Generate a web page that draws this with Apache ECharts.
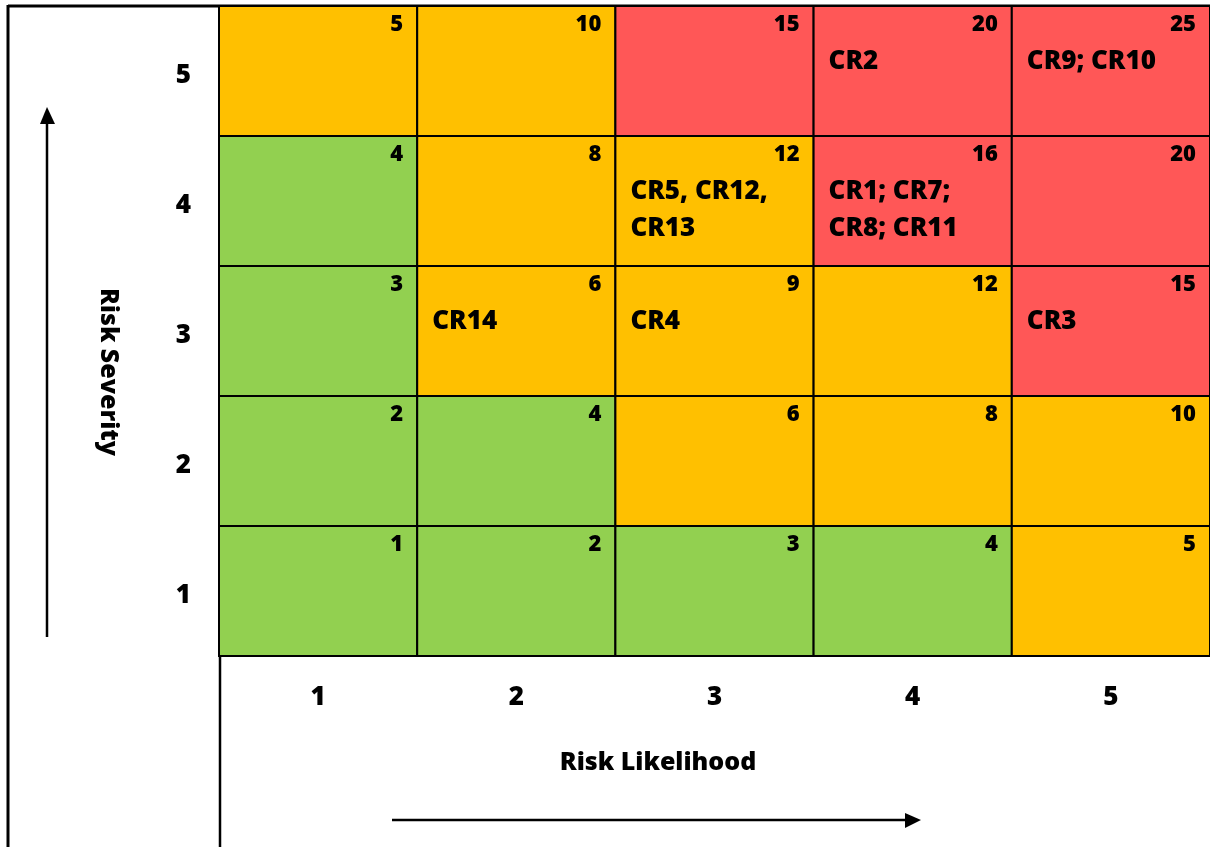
<!DOCTYPE html>
<html><head><meta charset="utf-8">
<script src="https://cdn.jsdelivr.net/npm/echarts@6/dist/echarts.min.js"></script>
<style>html,body{margin:0;padding:0;background:#fff}#c{width:1210px;height:847px}</style>
</head><body><div id="c"></div>
<script>
const likelihood = ['1','2','3','4','5'];
const severity = ['1','2','3','4','5'];
// score printed in each cell, rows = severity 1..5, columns = likelihood 1..5
const scoreRows = [
  [1, 2, 3, 4, 5],
  [2, 4, 6, 8, 10],
  [3, 6, 9, 12, 15],
  [4, 8, 12, 16, 20],
  [5, 10, 15, 20, 25]
];
// [likelihood index, severity index, risks]
const riskLabels = [
  [3, 4, 'CR2'],
  [4, 4, 'CR9; CR10'],
  [2, 3, 'CR5, CR12,\nCR13'],
  [3, 3, 'CR1; CR7;\nCR8; CR11'],
  [1, 2, 'CR14'],
  [2, 2, 'CR4'],
  [4, 2, 'CR3']
];
const levelColors = { low: '#92D050', medium: '#FFC000', high: '#FF5757' };
function levelOf(score) { return score <= 4 ? 'low' : (score <= 12 ? 'medium' : 'high'); }

const cells = [];
for (let s = 0; s < severity.length; s++) {
  for (let l = 0; l < likelihood.length; l++) {
    const r = riskLabels.find(d => d[0] === l && d[1] === s);
    cells.push([l, s, scoreRows[s][l], r ? r[2] : '']);
  }
}
const FONT = '"Open Sans", sans-serif';
const chart = echarts.init(document.getElementById('c'));
chart.setOption({
  animation: false,
  backgroundColor: '#fff',
  grid: { left: 219, top: 6, right: -2, height: 650 },
  xAxis: {
    type: 'category', data: likelihood, position: 'bottom',
    axisLine: { show: false }, axisTick: { show: false }, splitLine: { show: false },
    axisLabel: { fontSize: 26, fontWeight: 800, color: '#000', margin: 29, fontFamily: FONT }
  },
  yAxis: {
    type: 'category', data: severity,
    axisLine: { show: false }, axisTick: { show: false }, splitLine: { show: false },
    axisLabel: { fontSize: 26, fontWeight: 800, color: '#000', margin: 28, fontFamily: FONT,
                 verticalAlign: 'top', lineHeight: 10 }
  },
  series: [{
    type: 'custom',
    data: cells,
    clip: false,
    renderItem: function (params, api) {
      const l = api.value(0), s = api.value(1);
      const c = api.coord([l, s]);
      const sz = api.size([1, 1]);
      const x0 = c[0] - sz[0] / 2, y0 = c[1] - sz[1] / 2;
      const score = api.value(2);
      const label = cells[params.dataIndex][3];
      return {
        type: 'group',
        children: [
          { type: 'rect', shape: { x: x0, y: y0, width: sz[0], height: sz[1] },
            style: { fill: levelColors[levelOf(score)], stroke: '#000', lineWidth: 2 } },
          { type: 'text', x: x0 + sz[0] - 14, y: y0 + 19,
            style: { text: String(score), fill: '#000', font: '800 22px ' + FONT, align: 'right', verticalAlign: 'middle' } },
          { type: 'text', x: x0 + 15, y: y0 + 37.5,
            style: { text: label, fill: '#000', font: '800 26px ' + FONT, align: 'left', verticalAlign: 'top', lineHeight: 37 } }
        ]
      };
    }
  }],
  graphic: [
    { type: 'line', shape: { x1: 8, y1: 6, x2: 1210, y2: 6 }, style: { stroke: '#000', lineWidth: 3 } },
    { type: 'line', shape: { x1: 8, y1: 5, x2: 8, y2: 847 }, style: { stroke: '#000', lineWidth: 3 } },
    { type: 'line', shape: { x1: 220, y1: 6, x2: 220, y2: 847 }, style: { stroke: '#000', lineWidth: 2.5 } },
    { type: 'line', shape: { x1: 47, y1: 637, x2: 47, y2: 120 }, style: { stroke: '#000', lineWidth: 2.5 } },
    { type: 'polygon', shape: { points: [[47, 107], [40, 124], [55, 124]] }, style: { fill: '#000' } },
    { type: 'line', shape: { x1: 392, y1: 820, x2: 908, y2: 820 }, style: { stroke: '#000', lineWidth: 2.5 } },
    { type: 'polygon', shape: { points: [[921, 820], [905, 813], [905, 828]] }, style: { fill: '#000' } },
    { type: 'text', x: 658, y: 763,
      style: { text: 'Risk Likelihood', fill: '#000', font: '800 25px ' + FONT, textAlign: 'center', textVerticalAlign: 'middle' } },
    { type: 'text', x: 108, y: 372, rotation: -Math.PI / 2,
      style: { text: 'Risk Severity', fill: '#000', font: '800 25px ' + FONT, textAlign: 'center', textVerticalAlign: 'middle' } }
  ]
});
</script></body></html>
